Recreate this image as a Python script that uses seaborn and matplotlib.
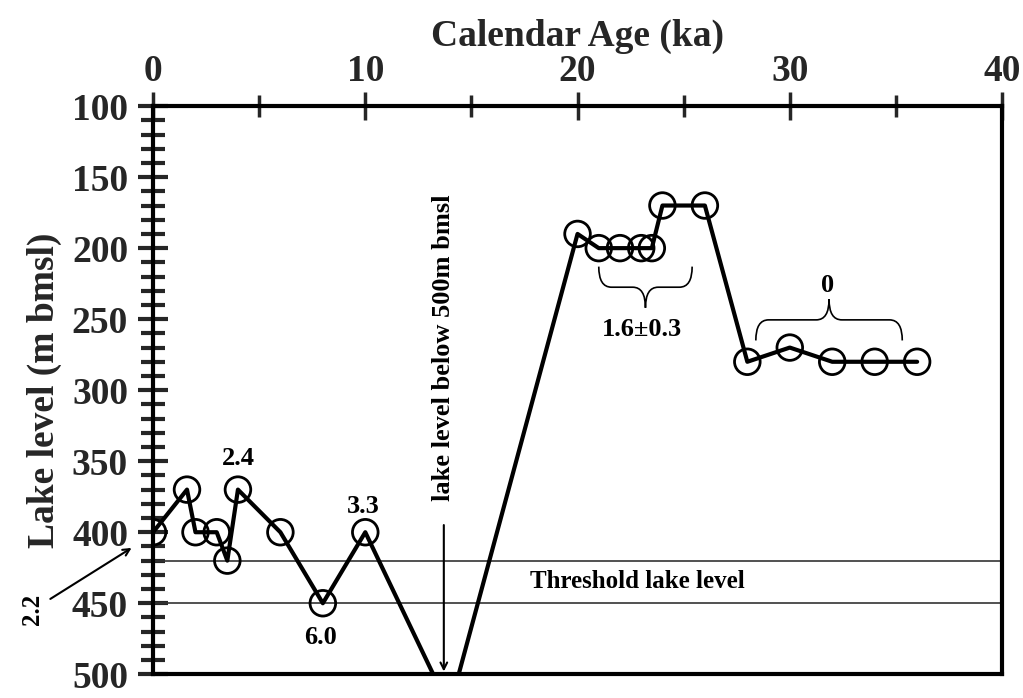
import numpy as np
import pandas as pd
import matplotlib
matplotlib.use("Agg")
import matplotlib.pyplot as plt
from matplotlib.path import Path
from matplotlib.patches import PathPatch
from matplotlib.ticker import MultipleLocator
import seaborn as sns

# lake level record (ka, m bmsl); the two 500 m points are the trough, drawn without markers
age = [0, 1.6, 2, 3, 3.5, 4, 6, 8, 10, 13.2, 14.4, 20, 21, 22, 23, 23.5, 24, 26, 28, 30, 32, 34, 36]
level = [400, 370, 400, 400, 420, 370, 400, 450, 400, 500, 500, 190, 200, 200, 200, 200, 170, 170, 280, 270, 280, 280, 280]
trough = [False] * 9 + [True, True] + [False] * 12

threshold_levels = [420, 450]
x_ticks = [0, 10, 20, 30, 40]
y_ticks = [100, 150, 200, 250, 300, 350, 400, 450, 500]

df = pd.DataFrame({"age": age, "level": level, "trough": trough})
pts = df[~df["trough"]]

sns.set_theme(style="white")
plt.rcParams["font.family"] = ["Liberation Serif", "DejaVu Serif"]
plt.rcParams["font.weight"] = "bold"

fig = plt.figure(figsize=(10.23, 6.98), dpi=100)
ax = fig.add_axes([0.1496, 0.034, 0.8299, 0.814])

for lv in threshold_levels:
    ax.axhline(lv, color="#333333", lw=1.2, zorder=1)

sns.lineplot(data=df, x="age", y="level", sort=False, estimator=None,
             color="black", lw=3, ax=ax, zorder=3)
sns.scatterplot(data=pts, x="age", y="level", s=340, facecolor="none",
                edgecolor="black", linewidth=2, ax=ax, zorder=4)

ax.set_xlim(0, 40)
ax.set_ylim(500, 100)
ax.xaxis.set_ticks_position("top")
ax.xaxis.set_label_position("top")
ax.set_xticks(x_ticks)
ax.set_yticks(y_ticks)
ax.xaxis.set_minor_locator(MultipleLocator(5))
ax.yaxis.set_minor_locator(MultipleLocator(10))
ax.tick_params(axis="x", which="major", direction="inout", length=20, width=2.5,
               labelsize=27, pad=2, top=True, bottom=False)
ax.tick_params(axis="x", which="minor", direction="inout", length=16, width=2.5,
               top=True, bottom=False)
ax.tick_params(axis="y", which="major", direction="inout", length=22, width=3,
               labelsize=27, pad=7, left=True, right=False)
ax.tick_params(axis="y", which="minor", direction="inout", length=17, width=3,
               left=True, right=False)
for lab in ax.get_xticklabels() + ax.get_yticklabels():
    lab.set_fontweight("bold")

for sp in ax.spines.values():
    sp.set_visible(True)
    sp.set_color("black")
    sp.set_linewidth(3)

ax.set_xlabel("Calendar Age (ka)", fontsize=27, fontweight="bold", labelpad=6)
ax.set_ylabel("Lake level (m bmsl)", fontsize=27, fontweight="bold", labelpad=7)


def brace(x0, x1, y_end, y_tip, dx=0.6):
    ym = (y_end + y_tip) / 2
    xm = (x0 + x1) / 2
    verts = [(x0, y_end), (x0, ym), (x0 + dx, ym), (xm - dx, ym), (xm, ym), (xm, y_tip),
             (xm, ym), (xm + dx, ym), (x1 - dx, ym), (x1, ym), (x1, y_end)]
    codes = [Path.MOVETO, Path.CURVE3, Path.CURVE3, Path.LINETO, Path.CURVE3, Path.CURVE3,
             Path.CURVE3, Path.CURVE3, Path.LINETO, Path.CURVE3, Path.CURVE3]
    ax.add_patch(PathPatch(Path(verts, codes), fc="none", ec="black", lw=1.2, zorder=2))


brace(21.0, 25.4, 213, 242)
brace(28.4, 35.3, 265, 236)

txt = dict(fontweight="bold", color="black")
ax.text(4.0, 348, "2.4", fontsize=19, ha="center", va="center", **txt)
ax.text(9.9, 382, "3.3", fontsize=19, ha="center", va="center", **txt)
ax.text(7.9, 474, "6.0", fontsize=19, ha="center", va="center", **txt)
ax.text(23.05, 257, "1.6\u00b10.3", fontsize=19, ha="center", va="center", **txt)
ax.text(31.8, 226, "0", fontsize=19, ha="center", va="center", **txt)
ax.text(22.8, 435, "Threshold lake level", fontsize=18, ha="center", va="center", **txt)
ax.text(13.7, 378, "lake level below 500m bmsl", fontsize=19, rotation=90,
        ha="center", va="bottom", **txt)
ax.annotate("", xy=(13.7, 500), xytext=(13.7, 393),
            arrowprops=dict(arrowstyle="->", lw=1.5, color="black"))
ax.text(-5.7, 454, "2.2", fontsize=18, rotation=90, ha="center", va="center",
        clip_on=False, **txt)
ax.annotate("", xy=(-0.9, 410), xytext=(-4.95, 448), annotation_clip=False,
            arrowprops=dict(arrowstyle="->", lw=1.5, color="black"))

fig.savefig("out.png", dpi=100, facecolor="white")
